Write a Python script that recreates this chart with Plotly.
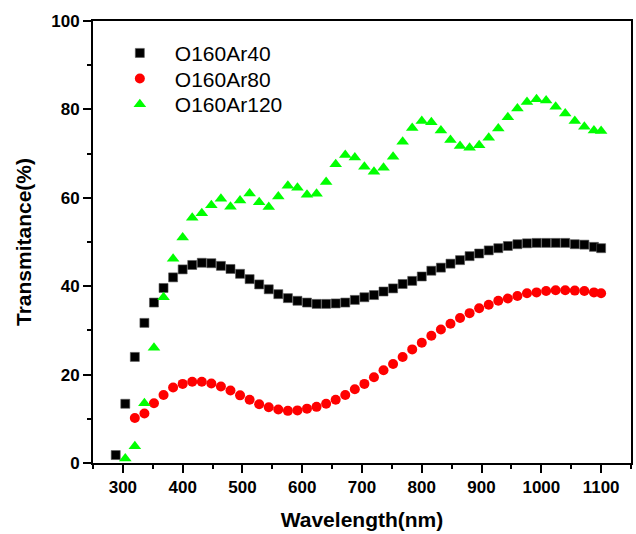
import plotly.graph_objects as go

wavelength = [288, 304, 320, 336, 352, 368, 384, 400, 416, 432, 448, 464, 480, 496,
              512, 528, 544, 560, 576, 592, 608, 624, 640, 656, 672, 688, 704, 720,
              736, 752, 768, 784, 800, 816, 832, 848, 864, 880, 896, 912, 928, 944,
              960, 976, 992, 1008, 1024, 1040, 1056, 1072, 1088, 1100]

t_ar40 = [1.8, 13.4, 24.0, 31.7, 36.3, 39.6, 42.0, 43.8, 44.8, 45.3, 45.2, 44.6, 43.9, 42.8,
          41.6, 40.4, 39.3, 38.2, 37.3, 36.7, 36.3, 36.0, 36.0, 36.1, 36.3, 36.9, 37.5, 38.0,
          38.8, 39.5, 40.5, 41.2, 42.2, 43.5, 44.2, 45.1, 45.9, 46.8, 47.4, 48.1, 48.6, 49.1,
          49.5, 49.7, 49.8, 49.8, 49.8, 49.8, 49.5, 49.4, 48.9, 48.6]

wl_ar80 = wavelength[2:]
t_ar80 = [10.2, 11.2, 13.5, 15.4, 17.1, 17.9, 18.4, 18.4, 18.0, 17.3, 16.4, 15.3,
          14.3, 13.3, 12.6, 12.1, 11.8, 11.9, 12.3, 12.7, 13.4, 14.3, 15.4, 16.7, 17.9, 19.4,
          21.0, 22.4, 24.0, 25.7, 27.2, 28.8, 30.2, 31.5, 32.8, 33.9, 35.0, 35.8, 36.7, 37.2,
          37.8, 38.4, 38.6, 38.9, 39.1, 39.1, 39.0, 38.9, 38.6, 38.4]

wl_ar120 = wavelength[1:]
t_ar120 = [1.0, 3.8, 13.5, 26.1, 37.5, 46.2, 51.0, 55.5, 56.5, 58.3, 59.8, 58.0, 59.4,
           61.0, 59.0, 57.9, 60.3, 62.7, 62.3, 60.7, 60.9, 63.6, 67.6, 69.7, 69.1, 67.0, 65.9,
           66.8, 69.3, 72.7, 75.8, 77.4, 77.1, 75.2, 73.1, 71.7, 71.3, 71.9, 73.6, 75.7, 78.2,
           80.2, 81.7, 82.3, 82.0, 80.6, 79.1, 77.4, 76.1, 75.2, 75.1]

names = ["O160Ar40", "O160Ar80", "O160Ar120"]
x_ticks = [300, 400, 500, 600, 700, 800, 900, 1000, 1100]
y_ticks = [0, 20, 40, 60, 80, 100]

FONT = "Liberation Sans, Arial, sans-serif"

fig = go.Figure()
fig.add_trace(go.Scatter(x=wavelength, y=t_ar40, mode="markers", name=names[0], legend="legend",
                         marker=dict(symbol="square", size=9, color="black",
                                     line=dict(width=0.6, color="#555"))))
fig.add_trace(go.Scatter(x=wl_ar80, y=t_ar80, mode="markers", name=names[1], legend="legend2",
                         marker=dict(symbol="circle", size=10, color="#ff0000",
                                     line=dict(width=0))))
fig.add_trace(go.Scatter(x=wl_ar120, y=t_ar120, mode="markers", name=names[2], legend="legend3",
                         marker=dict(symbol="triangle-up", size=11, color="#00ff00",
                                     line=dict(width=0))))

axis_common = dict(showline=True, linecolor="black", linewidth=2, mirror=True,
                   ticks="outside", tickcolor="black", tickwidth=2, ticklen=8,
                   showgrid=False, zeroline=False,
                   tickfont=dict(family=FONT, size=17, color="black", weight="bold"))

def leg(y):
    return dict(x=0.022, y=y, xanchor="left", yanchor="middle",
                bgcolor="rgba(0,0,0,0)", borderwidth=0,
                font=dict(family=FONT, size=21, color="black"),
                itemwidth=60)

fig.update_layout(
    width=636, height=534,
    margin=dict(l=93, r=3, t=21, b=71),
    paper_bgcolor="white", plot_bgcolor="white",
    showlegend=True,
    legend=leg(0.927), legend2=leg(0.869), legend3=leg(0.811),
    xaxis=dict(range=[250, 1150], tickvals=x_ticks,
               minor=dict(ticks="outside", ticklen=4, tickwidth=2, tickcolor="black", dtick=50, tick0=250),
               title=dict(text="Wavelength(nm)", standoff=16,
                          font=dict(family=FONT, size=21, color="black", weight="bold")),
               **axis_common),
    yaxis=dict(range=[0, 100], tickvals=y_ticks,
               minor=dict(ticks="outside", ticklen=4, tickwidth=2, tickcolor="black", dtick=10, tick0=0),
               title=dict(text="Transmitance(%)", standoff=14,
                          font=dict(family=FONT, size=21, color="black", weight="bold")),
               **axis_common),
)

fig.write_html("out.html")
